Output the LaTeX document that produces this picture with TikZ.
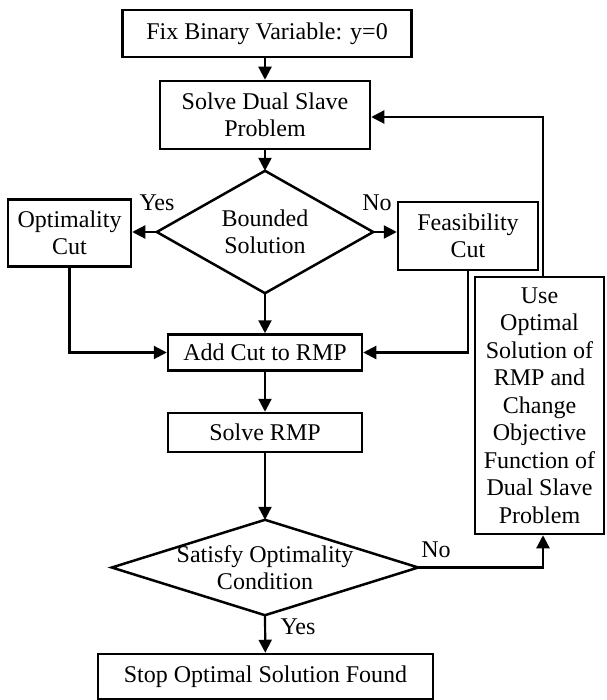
\documentclass[tikz,border=0pt]{standalone}
\usepackage{fontspec}
\setmainfont{Liberation Serif}
\usetikzlibrary{arrows.meta}
\begin{document}
\begin{tikzpicture}[x=1pt,y=-1pt,
  every node/.style={font=\fontsize{24pt}{27.5pt}\selectfont},
  box/.style={draw,line width=2.5pt,inner sep=0pt,align=center},
  dshape/.style={inner sep=0pt,align=center},
  arr/.style={line width=2.2pt,-{Triangle[length=13pt,width=13pt]}},
  con/.style={line width=2.2pt},
  lbl/.style={inner sep=0pt}]
\useasboundingbox (0,0) rectangle (606,700);
\node[box,minimum width=289pt,minimum height=47pt] (fix) at (267,33.5) {Fix Binary Variable: y=0};
\node[box,minimum width=210pt,minimum height=68pt] (dual) at (265,115) {Solve Dual Slave\\Problem};
\node[dshape,minimum width=216pt,minimum height=122pt] (bnd) at (265,232) {Bounded\\Solution};
\draw[line width=2.5pt,line join=miter] (bnd.west)--(bnd.north)--(bnd.east)--(bnd.south)--cycle;
\node[box,minimum width=123pt,minimum height=67pt] (opt) at (69.5,233) {Optimality\\Cut};
\node[box,minimum width=140pt,minimum height=68pt] (feas) at (468,236) {Feasibility\\Cut};
\node[box,minimum width=194pt,minimum height=36pt] (add) at (265,352.5) {Add Cut to RMP};
\node[box,minimum width=194pt,minimum height=39pt] (rmp) at (265,432.5) {Solve RMP};
\node[dshape,minimum width=306pt,minimum height=95pt] (sat) at (265,567.5) {Satisfy Optimality\\Condition};
\draw[line width=2.5pt,line join=miter] (sat.west)--(sat.north)--(sat.east)--(sat.south)--cycle;
\node[box,minimum width=335pt,minimum height=45pt] (stop) at (265.5,676.5) {Stop Optimal Solution Found};
\node[box,minimum width=129pt,minimum height=257pt] (use) at (539.5,405.5) {Use\\Optimal\\Solution of\\RMP and\\Change\\Objective\\Function of\\Dual Slave\\Problem};
\coordinate (usetop) at ([xshift=3.5pt]use.north);
\coordinate (usebot) at ([xshift=3.5pt]use.south);
\draw[arr] (fix.south -| dual.north) -- (dual.north);
\draw[arr] (dual) -- (bnd.north);
\draw[arr] (bnd.west) -- (bnd.west -| opt.east);
\draw[arr] (bnd.east) -- (bnd.east -| feas.west);
\draw[arr] (bnd.south) -- (add);
\draw[arr] (opt.south) |- (add.west);
\draw[arr] (feas.south) |- (add.east);
\draw[arr] (add) -- (rmp);
\draw[arr] (rmp) -- (sat.north);
\draw[arr] (sat.south) -- (stop);
\draw[arr] (sat.east) -| (usebot);
\draw[arr] (usetop) |- ([yshift=-2pt]dual.east);
\node[lbl] (yes1) at (157,203) {Yes};
\node[lbl] (no1) at (377,203) {No};
\node[lbl] (no2) at (436,550) {No};
\node[lbl] (yes2) at (298,627) {Yes};
\end{tikzpicture}
\end{document}
